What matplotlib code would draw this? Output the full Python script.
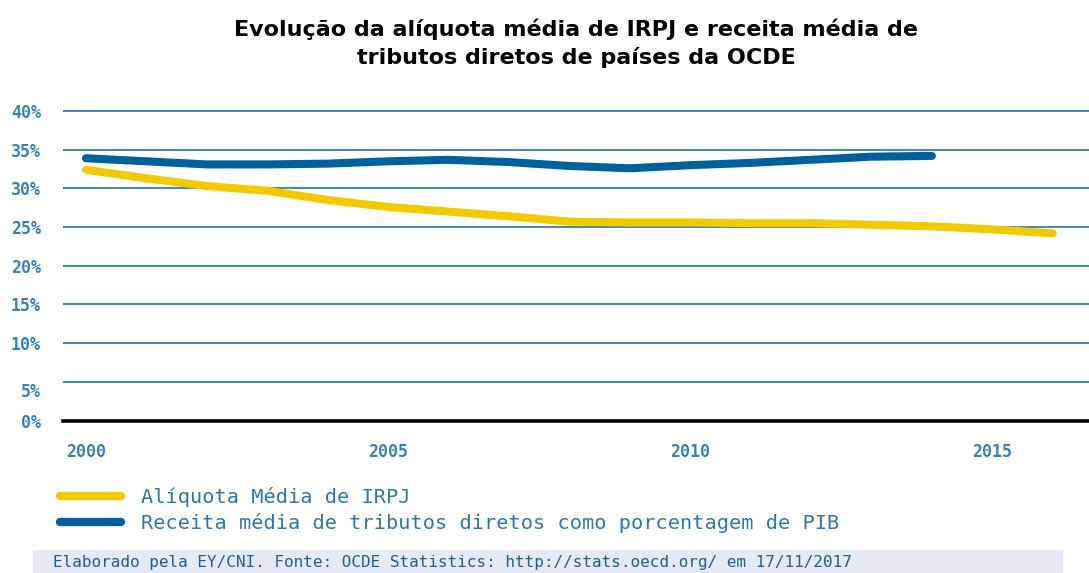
import matplotlib
matplotlib.use("Agg")
import matplotlib.pyplot as plt
import matplotlib.transforms as mtransforms
from matplotlib.patches import Rectangle
import numpy as np

# dados (em %)
anos_aliquota = [2000, 2001, 2002, 2003, 2004, 2005, 2006, 2007, 2008,
                 2009, 2010, 2011, 2012, 2013, 2014, 2015, 2016]
aliquota = [32.4, 31.3, 30.3, 29.7, 28.5, 27.6, 27.0, 26.4, 25.7,
            25.6, 25.6, 25.5, 25.5, 25.3, 25.1, 24.7, 24.2]

anos_receita = [2000, 2001, 2002, 2003, 2004, 2005, 2006, 2007, 2008,
                2009, 2010, 2011, 2012, 2013, 2014]
receita = [33.9, 33.5, 33.1, 33.1, 33.2, 33.5, 33.7, 33.4, 32.9,
           32.6, 33.0, 33.3, 33.7, 34.1, 34.2]

yticks = [0, 5, 10, 15, 20, 25, 30, 35, 40]
xticks = [2000, 2005, 2010, 2015]

titulo = "Evolução da alíquota média de IRPJ e receita média de\ntributos diretos de países da OCDE"
nomes = ["Alíquota Média de IRPJ",
         "Receita média de tributos diretos como porcentagem de PIB"]
fonte = "Elaborado pela EY/CNI. Fonte: OCDE Statistics: http://stats.oecd.org/ em 17/11/2017"

AMARELO = "#f2ca00"
AZUL = "#00619c"
GRADE = "#2f7fb6"
TXT = "#3a82b4"

W, H = 1089, 573
fig = plt.figure(figsize=(W / 100, H / 100), dpi=100)

# eixo: x 63..1089 px, y 0%..41% -> 420.5..103.3 px
ax = fig.add_axes([63 / W, 1 - 420.5 / H, 1 - 63 / W, (420.5 - 103.3) / H])
ax.plot(anos_aliquota, aliquota, color=AMARELO, lw=5.8, solid_capstyle="round",
        label=nomes[0], zorder=3)
ax.plot(anos_receita, receita, color=AZUL, lw=5.8, solid_capstyle="round",
        label=nomes[1], zorder=4)

ax.set_xlim(1999.62, 2016.6)
ax.set_ylim(0, 41)
ax.set_yticks(yticks)
ax.set_yticklabels([f"{v}%" for v in yticks])
ax.set_xticks(xticks)
ax.set_xticklabels([str(v) for v in xticks])

for s in ["top", "right", "left"]:
    ax.spines[s].set_visible(False)
ax.spines["bottom"].set_color("black")
ax.spines["bottom"].set_linewidth(2.6)
ax.spines["bottom"].set_zorder(5)

ax.grid(axis="y", color=GRADE, lw=1.3)
ax.set_axisbelow(True)
ax.tick_params(axis="both", length=0, colors=TXT)
ax.tick_params(axis="y", pad=16)
ax.tick_params(axis="x", pad=16)
for lab in ax.get_yticklabels() + ax.get_xticklabels():
    lab.set_fontfamily("DejaVu Sans Mono")
    lab.set_fontsize(12)
    lab.set_fontweight("bold")

# o rotulo de 5% fica um pouco abaixo da linha no original
off = mtransforms.ScaledTranslation(0, -8 / 100, fig.dpi_scale_trans)
lab5 = ax.get_yticklabels()[1]
lab5.set_transform(lab5.get_transform() + off)

fig.text(576 / W, 1 - 43 / H, titulo, ha="center", va="center",
         fontfamily="DejaVu Sans", fontweight="bold", fontsize=16, linespacing=1.4)

leg = ax.legend(loc="upper left", bbox_to_anchor=(60 / W, 1 - 487 / H),
                bbox_transform=fig.transFigure, frameon=False,
                handlelength=3.0, handletextpad=1.0, labelspacing=0.3,
                borderpad=0, borderaxespad=0,
                prop={"family": "DejaVu Sans Mono", "size": 14.6})
for t in leg.get_texts():
    t.set_color("#2f78a8")
for h in leg.get_lines():
    h.set_solid_capstyle("round")
    h.set_linewidth(6)

fig.patches.append(Rectangle((33 / W, 0), (1062 - 33) / W, (573 - 550) / H,
                             transform=fig.transFigure, color="#e6eaf4", zorder=0))
fig.text(53 / W, 1 - 563 / H, fonte, ha="left", va="center",
         fontfamily="DejaVu Sans Mono", fontsize=11.5, color="#1f5f90")

fig.savefig("out.png", dpi=100)
